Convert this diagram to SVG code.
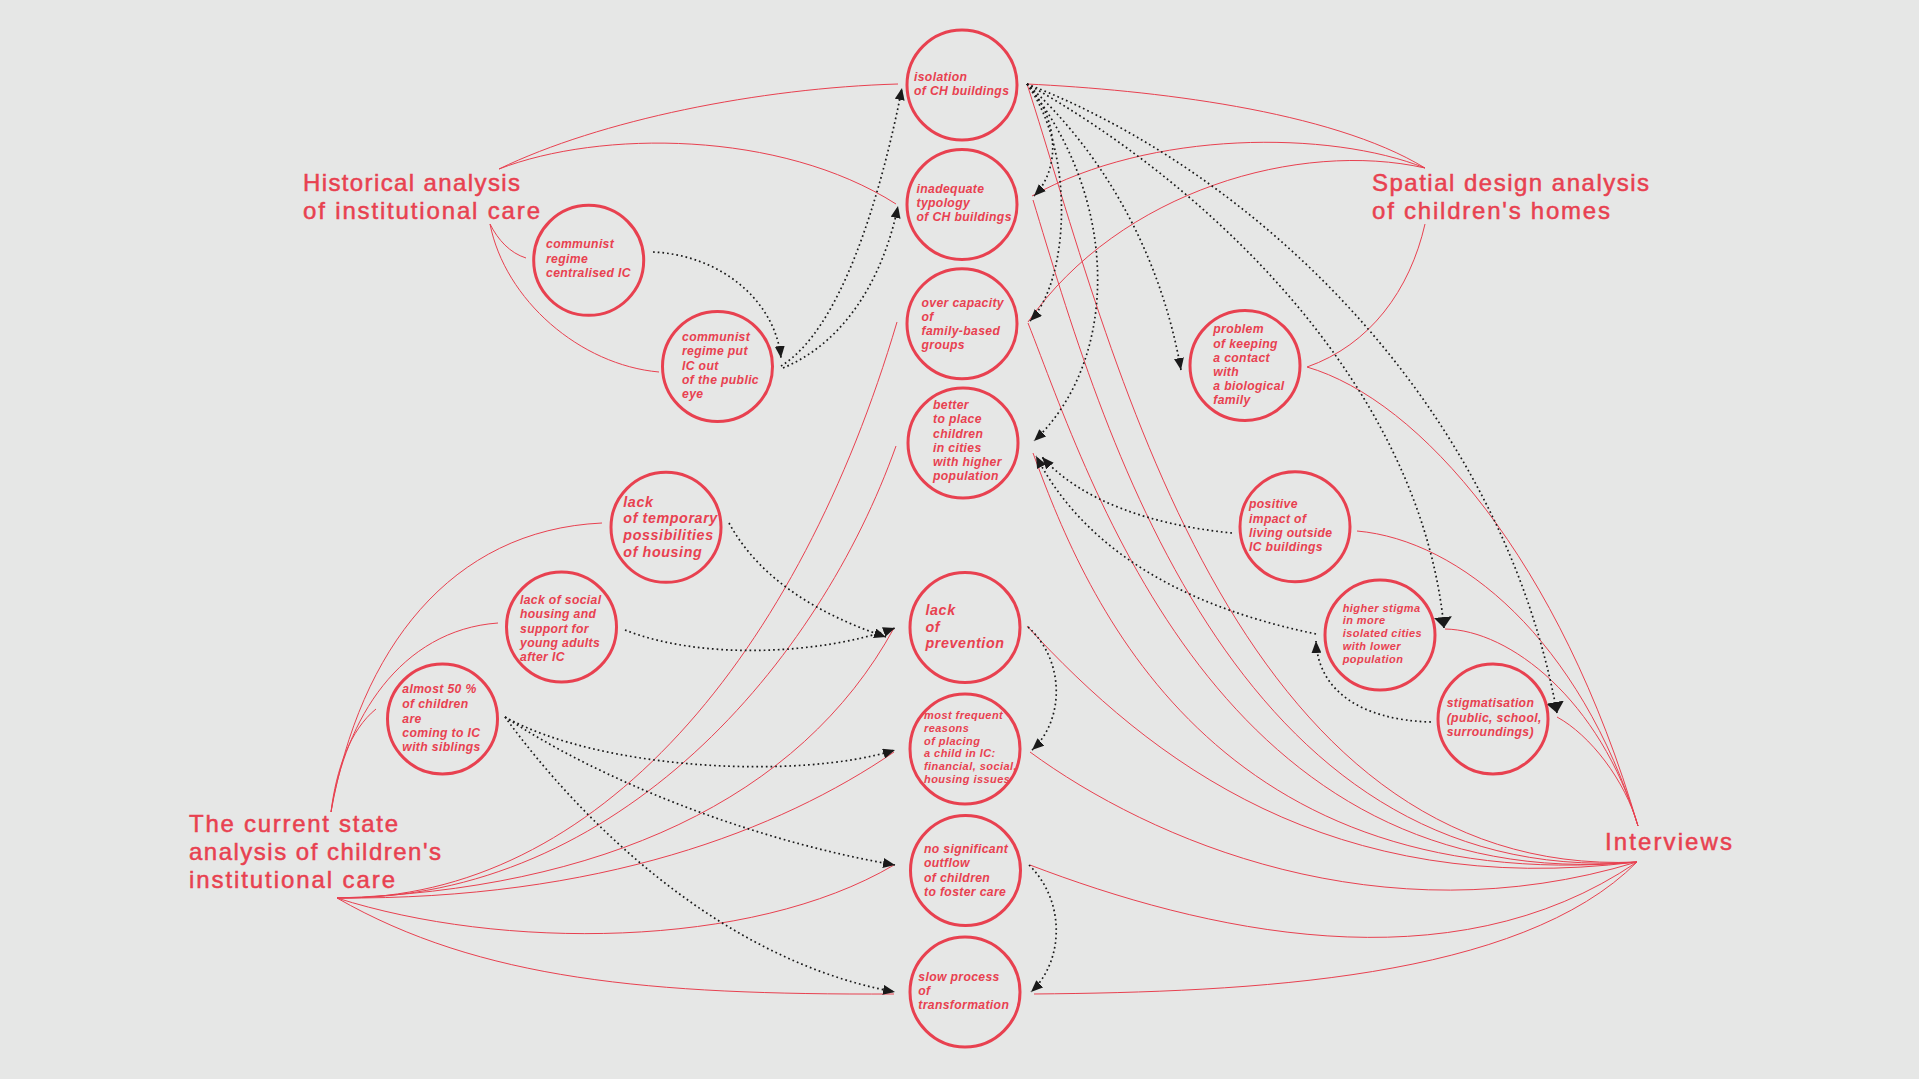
<svg xmlns="http://www.w3.org/2000/svg" width="1919" height="1079" viewBox="0 0 1919 1079">
<style>
.bg{fill:#e6e7e6}
.c{fill:none;stroke:#e84150;stroke-width:3}
.t{fill:#e84150;font-family:"Liberation Sans",Arial,sans-serif;font-weight:700;font-style:italic;font-size:12.2px;letter-spacing:0.35px}
.tl{font-size:14.3px;letter-spacing:0.6px}
.ts{font-size:11px;letter-spacing:0.45px}
.h{fill:#e84150;stroke:#e84150;stroke-width:0.5;font-family:"Liberation Sans",Arial,sans-serif;font-weight:400;font-size:24px}
.r{fill:none;stroke:#e84150;stroke-width:1}
.d{fill:none;stroke:#1a1a1a;stroke-width:1.7;stroke-dasharray:1.7 3;marker-end:url(#ah)}
.db{marker-end:url(#ahb)}
</style>
<defs>
<marker id="ah" viewBox="0 0 12 10" refX="12" refY="5" markerWidth="12" markerHeight="10" markerUnits="userSpaceOnUse" orient="auto"><path d="M0,0 L12,5 L0,10 z" fill="#1a1a1a"/></marker>
<marker id="ahb" viewBox="0 0 11 18" refX="11" refY="9" markerWidth="11" markerHeight="18" markerUnits="userSpaceOnUse" orient="auto"><path d="M0,0 L11,9 L0,18 z" fill="#1a1a1a"/></marker>
</defs>
<rect class="bg" x="0" y="0" width="1919" height="1079"/>

<g id="connectors">
<path class="r" d="M499,169 C600,120 760,88 898,84"/>
<path class="r" d="M499,169 C600,130 780,130 896,204"/>
<path class="r" d="M490,224 C498,240 510,253 526,258"/>
<path class="r" d="M490,224 C505,300 580,365 659,372"/>
<path class="r" d="M1425,168 C1330,110 1150,90 1027,84"/>
<path class="r" d="M1425,168 C1330,130 1150,130 1032,196"/>
<path class="r" d="M1425,168 C1300,140 1120,190 1028,322"/>
<path class="r" d="M1425,224 C1410,290 1370,345 1307,367"/>
<path class="r" d="M1307,367 C1420,400 1560,560 1638,826"/>
<path class="r" d="M1357,531 C1460,540 1580,640 1638,826"/>
<path class="r" d="M1445,629 C1510,630 1600,700 1638,826"/>
<path class="r" d="M1557,717 C1590,735 1625,780 1638,826"/>
<path class="r" d="M1027,84 C1110,340 1230,880 1637,862"/>
<path class="r" d="M1033,200 C1100,420 1230,890 1637,862"/>
<path class="r" d="M1028,323 C1090,480 1220,900 1637,862"/>
<path class="r" d="M1033,453 C1080,580 1200,900 1637,862"/>
<path class="r" d="M1027,626 C1150,760 1330,900 1637,862"/>
<path class="r" d="M1030,752 C1150,840 1380,940 1637,862"/>
<path class="r" d="M1030,865 C1200,930 1450,990 1637,862"/>
<path class="r" d="M1034,994 C1250,992 1520,980 1637,862"/>
<path class="r" d="M337,898 C600,900 800,650 897,322"/>
<path class="r" d="M337,898 C620,900 820,660 896,446"/>
<path class="r" d="M337,898 C600,890 800,800 894,628"/>
<path class="r" d="M337,898 C600,900 780,830 894,752"/>
<path class="r" d="M337,898 C500,950 750,950 894,865"/>
<path class="r" d="M337,898 C480,980 650,995 894,994"/>
<path class="r" d="M331,812 C360,650 450,530 602,523"/>
<path class="r" d="M331,812 C345,720 400,630 498,623"/>
<path class="r" d="M331,812 C336,770 350,730 376,709"/>

<path class="d" d="M653,252 C720,255 775,300 781,358"/>
<path class="d" d="M781,366 C840,330 880,200 902,88"/>
<path class="d" d="M783,368 C850,340 885,270 898,206"/>
<path class="d" d="M1027,84 C1060,120 1060,170 1034,196"/>
<path class="d" d="M1027,84 C1075,150 1070,280 1030,321"/>
<path class="d" d="M1027,84 C1120,200 1120,360 1034,441"/>
<path class="d" d="M1027,84 C1100,150 1160,250 1181,370"/>
<path class="d db" d="M1027,84 C1200,180 1420,380 1444,628"/>
<path class="d db" d="M1027,84 C1250,170 1500,400 1557,713"/>
<path class="d" d="M1232,533 C1150,525 1080,500 1042,457"/>
<path class="d" d="M1316,634 C1200,610 1090,560 1036,456"/>
<path class="d" d="M1431,722 C1360,720 1318,690 1316,641"/>
<path class="d" d="M729,523 C760,580 820,615 886,637"/>
<path class="d" d="M625,630 C700,660 820,655 895,628"/>
<path class="d" d="M505,717 C600,770 800,780 895,750"/>
<path class="d" d="M505,717 C600,780 750,840 895,865"/>
<path class="d" d="M505,717 C580,820 720,960 895,992"/>
<path class="d" d="M1028,627 C1065,660 1065,720 1032,750"/>
<path class="d" d="M1029,865 C1065,900 1065,960 1031,992"/>
</g>

<g id="title-historical"><text class="h"><tspan x="303" y="191" textLength="217">Historical analysis</tspan><tspan x="303" y="219" textLength="237">of institutional care</tspan></text></g>
<g id="title-spatial"><text class="h"><tspan x="1372" y="191" textLength="277">Spatial design analysis</tspan><tspan x="1372" y="219" textLength="238">of children's homes</tspan></text></g>
<g id="title-current"><text class="h"><tspan x="189" y="832" textLength="209">The current state</tspan><tspan x="189" y="860" textLength="252">analysis of children's</tspan><tspan x="189" y="888" textLength="206">institutional care</tspan></text></g>
<g id="title-interviews"><text class="h"><tspan x="1605" y="850" textLength="127">Interviews</tspan></text></g>

<g id="node-isolation"><circle class="c" cx="962" cy="85" r="55"/><text class="t"><tspan x="914" y="81">isolation</tspan><tspan x="914" y="95">of CH buildings</tspan></text></g>
<g id="node-inadequate"><circle class="c" cx="962" cy="204.5" r="55"/><text class="t"><tspan x="916.5" y="193.3">inadequate</tspan><tspan x="916.5" y="207.3">typology</tspan><tspan x="916.5" y="221.3">of CH buildings</tspan></text></g>
<g id="node-overcapacity"><circle class="c" cx="962" cy="323.7" r="55"/><text class="t"><tspan x="921.5" y="307.3">over capacity</tspan><tspan x="921.5" y="321.3">of</tspan><tspan x="921.5" y="335.3">family-based</tspan><tspan x="921.5" y="349.3">groups</tspan></text></g>
<g id="node-better"><circle class="c" cx="963" cy="443" r="55"/><text class="t"><tspan x="933" y="409">better</tspan><tspan x="933" y="423.3">to place</tspan><tspan x="933" y="437.6">children</tspan><tspan x="933" y="451.8">in cities</tspan><tspan x="933" y="466">with higher</tspan><tspan x="933" y="480.3">population</tspan></text></g>
<g id="node-prevention"><circle class="c" cx="965" cy="627.5" r="55"/><text class="t tl"><tspan x="925.5" y="615">lack</tspan><tspan x="925.5" y="631.5">of</tspan><tspan x="925.5" y="648">prevention</tspan></text></g>
<g id="node-reasons"><circle class="c" cx="965" cy="749" r="55"/><text class="t ts"><tspan x="924" y="719.3">most frequent</tspan><tspan x="924" y="732">reasons</tspan><tspan x="924" y="744.7">of placing</tspan><tspan x="924" y="757.4">a child in IC:</tspan><tspan x="924" y="770.1">financial, social,</tspan><tspan x="924" y="782.8">housing issues</tspan></text></g>
<g id="node-outflow"><circle class="c" cx="965.5" cy="870.5" r="55"/><text class="t"><tspan x="924" y="853.3">no significant</tspan><tspan x="924" y="867.4">outflow</tspan><tspan x="924" y="881.6">of children</tspan><tspan x="924" y="895.8">to foster care</tspan></text></g>
<g id="node-slow"><circle class="c" cx="965" cy="992" r="55"/><text class="t"><tspan x="918.3" y="981">slow process</tspan><tspan x="918.3" y="995">of</tspan><tspan x="918.3" y="1009">transformation</tspan></text></g>
<g id="node-centralised"><circle class="c" cx="588.7" cy="260.3" r="55"/><text class="t"><tspan x="546" y="248.3">communist</tspan><tspan x="546" y="262.6">regime</tspan><tspan x="546" y="276.8">centralised IC</tspan></text></g>
<g id="node-publiceye"><circle class="c" cx="717.5" cy="366.5" r="55"/><text class="t"><tspan x="682" y="341">communist</tspan><tspan x="682" y="355.3">regime put</tspan><tspan x="682" y="369.5">IC out</tspan><tspan x="682" y="383.7">of the public</tspan><tspan x="682" y="397.9">eye</tspan></text></g>
<g id="node-temporary"><circle class="c" cx="666" cy="527.3" r="55"/><text class="t tl"><tspan x="623.3" y="506.7">lack</tspan><tspan x="623.3" y="523.3">of temporary</tspan><tspan x="623.3" y="540">possibilities</tspan><tspan x="623.3" y="556.7">of housing</tspan></text></g>
<g id="node-socialhousing"><circle class="c" cx="561.5" cy="627" r="55"/><text class="t"><tspan x="520" y="604">lack of social</tspan><tspan x="520" y="618.3">housing and</tspan><tspan x="520" y="632.6">support for</tspan><tspan x="520" y="647">young adults</tspan><tspan x="520" y="661.3">after IC</tspan></text></g>
<g id="node-siblings"><circle class="c" cx="442.5" cy="719" r="55"/><text class="t"><tspan x="402.3" y="693.3">almost 50 %</tspan><tspan x="402.3" y="708.3">of children</tspan><tspan x="402.3" y="722.6">are</tspan><tspan x="402.3" y="737">coming to IC</tspan><tspan x="402.3" y="751.3">with siblings</tspan></text></g>
<g id="node-contact"><circle class="c" cx="1245" cy="365.5" r="55"/><text class="t"><tspan x="1213.3" y="333.3">problem</tspan><tspan x="1213.3" y="347.5">of keeping</tspan><tspan x="1213.3" y="361.7">a contact</tspan><tspan x="1213.3" y="376">with</tspan><tspan x="1213.3" y="390.2">a biological</tspan><tspan x="1213.3" y="404.4">family</tspan></text></g>
<g id="node-positive"><circle class="c" cx="1295" cy="526.7" r="55"/><text class="t"><tspan x="1249" y="508.3">positive</tspan><tspan x="1249" y="522.6">impact of</tspan><tspan x="1249" y="537">living outside</tspan><tspan x="1249" y="551.2">IC buildings</tspan></text></g>
<g id="node-higherstigma"><circle class="c" cx="1380" cy="635" r="55"/><text class="t ts"><tspan x="1342.7" y="611.7">higher stigma</tspan><tspan x="1342.7" y="624.4">in more</tspan><tspan x="1342.7" y="637.1">isolated cities</tspan><tspan x="1342.7" y="649.8">with lower</tspan><tspan x="1342.7" y="662.5">population</tspan></text></g>
<g id="node-stigmatisation"><circle class="c" cx="1493" cy="719" r="55"/><text class="t"><tspan x="1446.7" y="707.3">stigmatisation</tspan><tspan x="1446.7" y="721.6">(public, school,</tspan><tspan x="1446.7" y="736">surroundings)</tspan></text></g>
</svg>
